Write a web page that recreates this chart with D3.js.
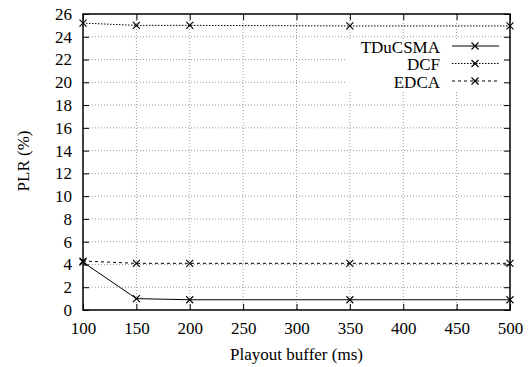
<!DOCTYPE html>
<html>
<head>
<meta charset="utf-8">
<script src="https://cdn.jsdelivr.net/npm/d3@7"></script>
<style>
  body { margin: 0; background: #fff; }
</style>
</head>
<body>
<svg id="chart" width="531" height="367"></svg>
<script>
// chart data
var buffers = [100, 150, 200, 350, 500];
var tducsma = [4.2, 1.0, 0.9, 0.9, 0.9];
var dcf = [25.2, 25.0, 25.0, 24.95, 24.95];
var edca = [4.3, 4.1, 4.1, 4.1, 4.1];
var seriesNames = ["TDuCSMA", "DCF", "EDCA"];
var xTicks = [100, 150, 200, 250, 300, 350, 400, 450, 500];
var yTicks = [0, 2, 4, 6, 8, 10, 12, 14, 16, 18, 20, 22, 24, 26];

var FONT = "'Liberation Serif'";
var svg = d3.select("#chart");
var plotL = 83, plotR = 510, plotT = 14, plotB = 310;   // plot frame

var x = d3.scaleLinear().domain([100, 500]).range([plotL, plotR]);
var y = d3.scaleLinear().domain([0, 26]).range([plotB, plotT]);

// grid
var grid = svg.append("g");
grid.selectAll(".gx").data(xTicks.slice(1, -1)).enter().append("line")
  .attr("x1", d => x(d)).attr("x2", d => x(d))
  .attr("y1", plotT).attr("y2", plotB)
  .attr("stroke", "#999").attr("stroke-width", 1).attr("stroke-dasharray", "1,2");
grid.selectAll(".gy").data(yTicks.slice(1, -1)).enter().append("line")
  .attr("x1", plotL).attr("x2", plotR)
  .attr("y1", d => y(d)).attr("y2", d => y(d))
  .attr("stroke", "#999").attr("stroke-width", 1).attr("stroke-dasharray", "1,2");

// legend box (white, hides grid)
svg.append("rect").attr("x", 345).attr("y", 39).attr("width", plotR - 346).attr("height", 52).attr("fill", "#fff");

// axes (gnuplot style: ticks inward on all sides)
var axB = svg.append("g").attr("transform", "translate(0," + plotB + ")")
  .call(d3.axisBottom(x).tickValues(xTicks).tickSize(-6).tickPadding(12));
var axT = svg.append("g").attr("transform", "translate(0," + plotT + ")")
  .call(d3.axisTop(x).tickValues(xTicks).tickSize(-6).tickFormat(""));
var axL = svg.append("g").attr("transform", "translate(" + plotL + ",0)")
  .call(d3.axisLeft(y).tickValues(yTicks).tickSize(-6).tickPadding(11));
var axR = svg.append("g").attr("transform", "translate(" + plotR + ",0)")
  .call(d3.axisRight(y).tickValues(yTicks).tickSize(-6).tickFormat(""));
[axB, axT, axL, axR].forEach(function(a) {
  a.select(".domain").remove();
  a.selectAll("line").attr("stroke", "#000");
  a.selectAll("text").style("font-family", FONT).style("font-size", "17px").attr("fill", "#000");
});

// frame
svg.append("rect").attr("x", plotL).attr("y", plotT).attr("width", plotR - plotL).attr("height", plotB - plotT)
  .attr("fill", "none").attr("stroke", "#000").attr("stroke-width", 1.5);

var styles = [
  { data: tducsma, dash: null },
  { data: dcf, dash: "1.5,1.5" },
  { data: edca, dash: "3,3" }
];

var line = d3.line().x(function(d, i) { return x(buffers[i]); }).y(d => y(d));

function cross(g, cx, cy) {
  var s = 3.5;
  g.append("path").attr("d", "M" + (cx - s) + "," + (cy - s) + "L" + (cx + s) + "," + (cy + s) +
    "M" + (cx - s) + "," + (cy + s) + "L" + (cx + s) + "," + (cy - s))
    .attr("stroke", "#000").attr("stroke-width", 1.1).attr("fill", "none");
}

styles.forEach(function(s) {
  svg.append("path").datum(s.data).attr("d", line)
    .attr("fill", "none").attr("stroke", "#000").attr("stroke-width", 1)
    .attr("stroke-dasharray", s.dash);
  var g = svg.append("g");
  s.data.forEach(function(v, i) { cross(g, x(buffers[i]), y(v)); });
});

// legend
var legY = [46, 63.5, 81];
seriesNames.forEach(function(name, i) {
  svg.append("text").attr("x", 440).attr("y", legY[i] + 1).attr("dy", "0.35em")
    .attr("text-anchor", "end").style("font-family", FONT).style("font-size", "17px").text(name);
  svg.append("line").attr("x1", 452).attr("x2", 499).attr("y1", legY[i]).attr("y2", legY[i])
    .attr("stroke", "#000").attr("stroke-width", 1).attr("stroke-dasharray", styles[i].dash);
  cross(svg, 475, legY[i]);
});

// axis titles
svg.append("text").attr("x", (plotL + plotR) / 2).attr("y", 360).attr("text-anchor", "middle")
  .style("font-family", FONT).style("font-size", "17px").text("Playout buffer (ms)");
svg.append("text").attr("transform", "translate(29,161) rotate(-90)").attr("text-anchor", "middle")
  .style("font-family", FONT).style("font-size", "17px").text("PLR (%)");
</script>
</body>
</html>
